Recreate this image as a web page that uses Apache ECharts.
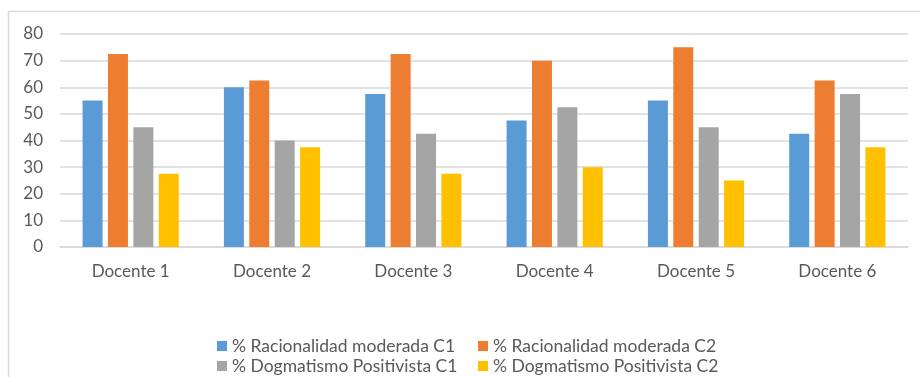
<!DOCTYPE html>
<html>
<head>
<meta charset="utf-8">
<script src="https://cdn.jsdelivr.net/npm/echarts@6/dist/echarts.min.js"></script>
<style>
  html, body { margin: 0; padding: 0; background: #ffffff; }
  #chart { width: 920px; height: 377px; }
</style>
</head>
<body>
<div id="chart"></div>
<script>
// Categories and series values
const categories = ['Docente 1', 'Docente 2', 'Docente 3', 'Docente 4', 'Docente 5', 'Docente 6'];
const racionalidadC1 = [55, 60, 57.5, 47.5, 55, 42.5];
const racionalidadC2 = [72.5, 62.5, 72.5, 70, 75, 62.5];
const dogmatismoC1 = [45, 40, 42.5, 52.5, 45, 57.5];
const dogmatismoC2 = [27.5, 37.5, 27.5, 30, 25, 37.5];
const seriesNames = [
  '% Racionalidad moderada C1',
  '% Racionalidad moderada C2',
  '% Dogmatismo Positivista C1',
  '% Dogmatismo Positivista C2'
];
const yTicks = { min: 0, max: 80, interval: 10 };

const colors = ['#5B9BD5', '#ED7D31', '#A5A5A5', '#FFC000'];
const fontFamily = 'Lato, "Noto Sans", sans-serif';
const textColor = '#595959';

const chart = echarts.init(document.getElementById('chart'), null, { renderer: 'canvas' });

const values = [racionalidadC1, racionalidadC2, dogmatismoC1, dogmatismoC2];

// Legend laid out as a 2 x 2 block, one legend component per entry
const legendSlots = [
  { left: 217, top: 337 },
  { left: 478, top: 337 },
  { left: 217, top: 357 },
  { left: 478, top: 357 }
];

chart.setOption({
  animation: false,
  color: colors,
  graphic: [{
    type: 'rect',
    shape: { x: 8.5, y: 11.5, width: 940, height: 400 },
    style: { fill: 'none', stroke: '#d9d9d9', lineWidth: 1.5 },
    silent: true
  }],
  grid: { left: 60, right: 12, top: 34, bottom: 130, containLabel: false },
  legend: seriesNames.map((name, i) => ({
    data: [name],
    left: legendSlots[i].left,
    top: legendSlots[i].top,
    padding: 0,
    itemWidth: 10,
    itemHeight: 10,
    icon: 'rect',
    selectedMode: false,
    textStyle: { fontFamily, fontSize: 17.5, color: textColor }
  })),
  xAxis: {
    type: 'category',
    data: categories,
    axisLine: { show: true, lineStyle: { color: '#d9d9d9', width: 1.5 } },
    axisTick: { show: false },
    axisLabel: { fontFamily, fontSize: 17, color: textColor, margin: 16 }
  },
  yAxis: {
    type: 'value',
    min: yTicks.min,
    max: yTicks.max,
    interval: yTicks.interval,
    axisLine: { show: false },
    axisTick: { show: false },
    splitLine: { lineStyle: { color: '#d9d9d9', width: 1.5 } },
    axisLabel: { fontFamily, fontSize: 17, color: textColor, margin: 17 }
  },
  series: seriesNames.map((name, i) => ({
    name,
    type: 'bar',
    data: values[i],
    barWidth: 20,
    barGap: '27%',
    itemStyle: { color: colors[i] }
  }))
});
</script>
</body>
</html>
